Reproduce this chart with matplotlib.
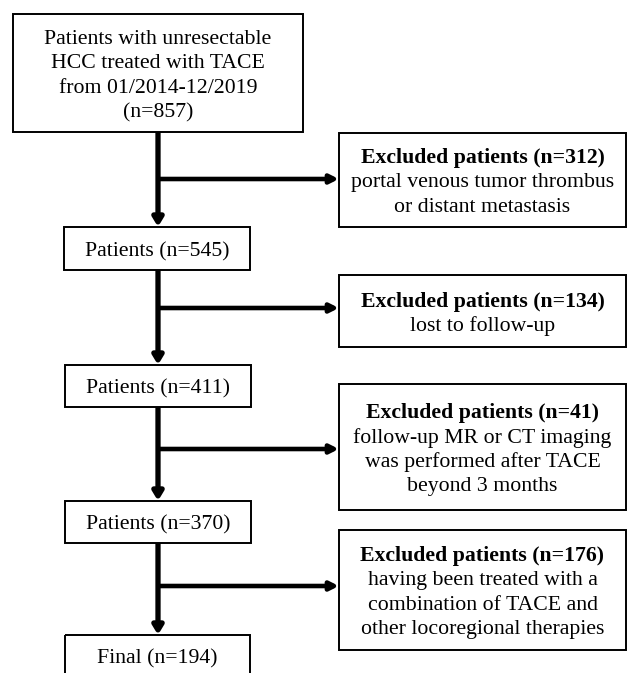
import matplotlib.pyplot as plt
from matplotlib.patches import Rectangle

plt.rcParams['font.family'] = ['Liberation Serif', 'DejaVu Serif']

# main column: text and box extents (left, top, right, bottom) in pixels
main_texts = ["Patients with unresectable\nHCC treated with TACE\nfrom 01/2014-12/2019\n(n=857)",
              "Patients (n=545)",
              "Patients (n=411)",
              "Patients (n=370)",
              "Final (n=194)"]
main_boxes = [(13, 14, 303, 132),
              (64, 227, 250, 270),
              (65, 365, 251, 407),
              (65, 501, 251, 543),
              (65, 635, 250, 690)]

# exclusion boxes on the right
excl_counts = [312, 134, 41, 176]
excl_reasons = ["portal venous tumor thrombus\nor distant metastasis",
                "lost to follow-up",
                "follow-up MR or CT imaging\nwas performed after TACE\nbeyond 3 months",
                "having been treated with a\ncombination of TACE and\nother locoregional therapies"]
excl_boxes = [(339, 133, 626, 227),
              (339, 275, 626, 347),
              (339, 384, 626, 510),
              (339, 530, 626, 650)]
branch_y = [179, 308, 449, 586]

fig = plt.figure(figsize=(6.27, 6.73), dpi=100)
ax = fig.add_axes([0, 0, 1, 1])
ax.set_xlim(0, 627)
ax.set_ylim(673, 0)
ax.axis('off')

fs = 15.7
lh = 24.5
spine_x = 158


def draw_lines(cx, cy, lines, weights):
    y0 = cy - (len(lines) - 1) * lh / 2 + 3  # nudge down a bit, like the original
    for k, (line, w) in enumerate(zip(lines, weights)):
        ax.text(cx, y0 + k * lh, line, ha='center', va='center', fontsize=fs, fontweight=w)


for txt, (l, t, r, b) in zip(main_texts, main_boxes):
    ax.add_patch(Rectangle((l, t), r - l, b - t, fill=False, lw=1.4, ec='black'))
    if b > 673:
        cy = t + 21
    else:
        cy = (t + b) / 2
    lines = txt.split('\n')
    draw_lines((l + r) / 2, cy, lines, ['normal'] * len(lines))

for n, reason, (l, t, r, b) in zip(excl_counts, excl_reasons, excl_boxes):
    ax.add_patch(Rectangle((l, t), r - l, b - t, fill=False, lw=1.4, ec='black'))
    lines = [f"Excluded patients (n={n})"] + reason.split('\n')
    draw_lines((l + r) / 2, (t + b) / 2, lines, ['bold'] + ['normal'] * (len(lines) - 1))

# vertical arrows between main boxes
for i in range(len(main_boxes) - 1):
    top = main_boxes[i][3]
    bot = main_boxes[i + 1][1]
    ax.annotate('', xy=(spine_x, bot), xytext=(spine_x, top),
                arrowprops=dict(arrowstyle='-|>,head_length=0.5,head_width=0.3',
                                lw=3.8, color='black', shrinkA=0, shrinkB=0,
                                capstyle='butt'))

# horizontal arrows to exclusion boxes
for y, box in zip(branch_y, excl_boxes):
    ax.annotate('', xy=(box[0], y), xytext=(spine_x, y),
                arrowprops=dict(arrowstyle='-|>,head_length=0.5,head_width=0.25',
                                lw=3.3, color='black', shrinkA=0, shrinkB=0,
                                capstyle='butt'))

fig.savefig('out.png', dpi=100)
